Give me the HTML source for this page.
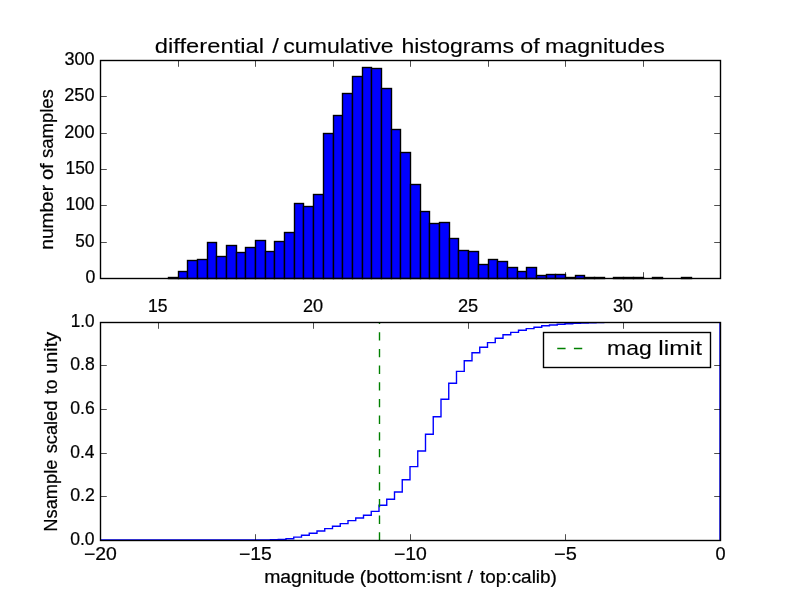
<!DOCTYPE html>
<html><head><meta charset="utf-8"><title>histograms</title>
<style>html,body{margin:0;padding:0;background:#fff;overflow:hidden}svg{display:block}text{font-family:"Liberation Sans",sans-serif;fill:#000;stroke:#000;stroke-width:0.22px;paint-order:stroke}</style>
</head><body>
<svg style="will-change:transform" width="800" height="600" viewBox="0 0 800 600">
<rect x="0" y="0" width="800" height="600" fill="#ffffff"/>
<g fill="#0000ff" stroke="#000000" stroke-width="1.39" stroke-linejoin="miter">
<rect x="168.50" y="277.50" width="10.00" height="1.00"/>
<rect x="178.50" y="271.50" width="9.00" height="7.00"/>
<rect x="187.50" y="260.50" width="10.00" height="18.00"/>
<rect x="197.50" y="259.50" width="10.00" height="19.00"/>
<rect x="207.50" y="242.50" width="9.00" height="36.00"/>
<rect x="216.50" y="256.50" width="10.00" height="22.00"/>
<rect x="226.50" y="245.50" width="10.00" height="33.00"/>
<rect x="236.50" y="252.50" width="9.00" height="26.00"/>
<rect x="245.50" y="247.50" width="10.00" height="31.00"/>
<rect x="255.50" y="240.50" width="10.00" height="38.00"/>
<rect x="265.50" y="251.50" width="9.00" height="27.00"/>
<rect x="274.50" y="241.50" width="10.00" height="37.00"/>
<rect x="284.50" y="232.50" width="10.00" height="46.00"/>
<rect x="294.50" y="203.50" width="9.00" height="75.00"/>
<rect x="303.50" y="206.50" width="10.00" height="72.00"/>
<rect x="313.50" y="194.50" width="10.00" height="84.00"/>
<rect x="323.50" y="133.50" width="10.00" height="145.00"/>
<rect x="333.50" y="115.50" width="9.00" height="163.00"/>
<rect x="342.50" y="93.50" width="10.00" height="185.00"/>
<rect x="352.50" y="76.50" width="10.00" height="202.00"/>
<rect x="362.50" y="67.50" width="9.00" height="211.00"/>
<rect x="371.50" y="68.50" width="10.00" height="210.00"/>
<rect x="381.50" y="88.50" width="10.00" height="190.00"/>
<rect x="391.50" y="129.50" width="9.00" height="149.00"/>
<rect x="400.50" y="152.50" width="10.00" height="126.00"/>
<rect x="410.50" y="184.50" width="10.00" height="94.00"/>
<rect x="420.50" y="211.50" width="9.00" height="67.00"/>
<rect x="429.50" y="223.50" width="10.00" height="55.00"/>
<rect x="439.50" y="222.50" width="10.00" height="56.00"/>
<rect x="449.50" y="238.50" width="9.00" height="40.00"/>
<rect x="458.50" y="250.50" width="10.00" height="28.00"/>
<rect x="468.50" y="251.50" width="10.00" height="27.00"/>
<rect x="478.50" y="264.50" width="10.00" height="14.00"/>
<rect x="488.50" y="259.50" width="9.00" height="19.00"/>
<rect x="497.50" y="261.50" width="10.00" height="17.00"/>
<rect x="507.50" y="267.50" width="10.00" height="11.00"/>
<rect x="517.50" y="271.50" width="9.00" height="7.00"/>
<rect x="526.50" y="267.50" width="10.00" height="11.00"/>
<rect x="536.50" y="275.50" width="10.00" height="3.00"/>
<rect x="546.50" y="274.50" width="9.00" height="4.00"/>
<rect x="555.50" y="274.50" width="10.00" height="4.00"/>
<rect x="565.50" y="277.50" width="10.00" height="1.00"/>
<rect x="575.50" y="275.50" width="9.00" height="3.00"/>
<rect x="584.50" y="277.50" width="10.00" height="1.00"/>
<rect x="594.50" y="277.50" width="10.00" height="1.00"/>
<rect x="613.50" y="277.50" width="10.00" height="1.00"/>
<rect x="623.50" y="277.50" width="10.00" height="1.00"/>
<rect x="633.50" y="277.50" width="10.00" height="1.00"/>
<rect x="652.50" y="277.50" width="10.00" height="1.00"/>
<rect x="681.50" y="277.50" width="10.00" height="1.00"/>
</g>
<g stroke="#000" stroke-width="0.69" fill="none">
<line x1="100.50" y1="278.50" x2="100.50" y2="272.20"/>
<line x1="178.50" y1="278.50" x2="178.50" y2="272.20"/>
<line x1="255.50" y1="278.50" x2="255.50" y2="272.20"/>
<line x1="333.50" y1="278.50" x2="333.50" y2="272.20"/>
<line x1="410.50" y1="278.50" x2="410.50" y2="272.20"/>
<line x1="488.50" y1="278.50" x2="488.50" y2="272.20"/>
<line x1="565.50" y1="278.50" x2="565.50" y2="272.20"/>
<line x1="643.50" y1="278.50" x2="643.50" y2="272.20"/>
<line x1="720.50" y1="278.50" x2="720.50" y2="272.20"/>
<line x1="100.50" y1="60.50" x2="100.50" y2="66.80"/>
<line x1="178.50" y1="60.50" x2="178.50" y2="66.80"/>
<line x1="255.50" y1="60.50" x2="255.50" y2="66.80"/>
<line x1="333.50" y1="60.50" x2="333.50" y2="66.80"/>
<line x1="410.50" y1="60.50" x2="410.50" y2="66.80"/>
<line x1="488.50" y1="60.50" x2="488.50" y2="66.80"/>
<line x1="565.50" y1="60.50" x2="565.50" y2="66.80"/>
<line x1="643.50" y1="60.50" x2="643.50" y2="66.80"/>
<line x1="720.50" y1="60.50" x2="720.50" y2="66.80"/>
<line x1="100.50" y1="278.50" x2="106.80" y2="278.50"/>
<line x1="100.50" y1="242.50" x2="106.80" y2="242.50"/>
<line x1="100.50" y1="205.50" x2="106.80" y2="205.50"/>
<line x1="100.50" y1="169.50" x2="106.80" y2="169.50"/>
<line x1="100.50" y1="133.50" x2="106.80" y2="133.50"/>
<line x1="100.50" y1="96.50" x2="106.80" y2="96.50"/>
<line x1="100.50" y1="60.50" x2="106.80" y2="60.50"/>
<line x1="720.50" y1="278.50" x2="714.20" y2="278.50"/>
<line x1="720.50" y1="242.50" x2="714.20" y2="242.50"/>
<line x1="720.50" y1="205.50" x2="714.20" y2="205.50"/>
<line x1="720.50" y1="169.50" x2="714.20" y2="169.50"/>
<line x1="720.50" y1="133.50" x2="714.20" y2="133.50"/>
<line x1="720.50" y1="96.50" x2="714.20" y2="96.50"/>
<line x1="720.50" y1="60.50" x2="714.20" y2="60.50"/>
</g>
<rect x="100.50" y="60.50" width="620.00" height="218.00" fill="none" stroke="#000" stroke-width="1.39"/>
<clipPath id="cl"><rect x="100.00" y="322.00" width="620.00" height="218.00"/></clipPath>
<g clip-path="url(#cl)">
<path d="M100.00 540.00 L100.00 540.00 L107.75 540.00 L107.75 540.00 L115.50 540.00 L115.50 540.00 L123.25 540.00 L123.25 540.00 L131.00 540.00 L131.00 540.00 L138.75 540.00 L138.75 540.00 L146.50 540.00 L146.50 540.00 L154.25 540.00 L154.25 540.00 L162.00 540.00 L162.00 540.00 L169.75 540.00 L169.75 540.00 L177.50 540.00 L177.50 540.00 L185.25 540.00 L185.25 540.00 L193.00 540.00 L193.00 540.00 L200.75 540.00 L200.75 540.00 L208.50 540.00 L208.50 540.00 L216.25 540.00 L216.25 540.00 L224.00 540.00 L224.00 540.00 L231.75 540.00 L231.75 540.00 L239.50 540.00 L239.50 540.00 L247.25 540.00 L247.25 540.00 L255.00 540.00 L255.00 540.00 L262.75 540.00 L262.75 539.90 L270.50 539.90 L270.50 539.75 L278.25 539.75 L278.25 539.55 L286.00 539.55 L286.00 538.70 L293.75 538.70 L293.75 537.10 L301.50 537.10 L301.50 535.20 L309.25 535.20 L309.25 533.20 L317.00 533.20 L317.00 531.00 L324.75 531.00 L324.75 528.60 L332.50 528.60 L332.50 526.20 L340.25 526.20 L340.25 523.60 L348.00 523.60 L348.00 520.60 L355.75 520.60 L355.75 518.00 L363.50 518.00 L363.50 515.20 L371.25 515.20 L371.25 511.40 L379.00 511.40 L379.00 505.20 L386.75 505.20 L386.75 499.30 L394.50 499.30 L394.50 492.00 L402.25 492.00 L402.25 479.70 L410.00 479.70 L410.00 466.60 L417.75 466.60 L417.75 451.00 L425.50 451.00 L425.50 434.20 L433.25 434.20 L433.25 416.80 L441.00 416.80 L441.00 399.30 L448.75 399.30 L448.75 383.30 L456.50 383.30 L456.50 371.40 L464.25 371.40 L464.25 360.80 L472.00 360.80 L472.00 352.80 L479.75 352.80 L479.75 347.20 L487.50 347.20 L487.50 342.60 L495.25 342.60 L495.25 338.20 L503.00 338.20 L503.00 334.80 L510.75 334.80 L510.75 332.40 L518.50 332.40 L518.50 330.20 L526.25 330.20 L526.25 328.60 L534.00 328.60 L534.00 327.20 L541.75 327.20 L541.75 325.80 L549.50 325.80 L549.50 325.00 L557.25 325.00 L557.25 324.20 L565.00 324.20 L565.00 323.70 L572.75 323.70 L572.75 323.30 L580.50 323.30 L580.50 323.00 L588.25 323.00 L588.25 322.70 L596.00 322.70 L596.00 322.50 L603.75 322.50 L603.75 322.30 L611.50 322.30 L611.50 322.20 L619.25 322.20 L619.25 322.10 L627.00 322.10 L627.00 322.00 L634.75 322.00 L634.75 321.95 L642.50 321.95 L642.50 321.82 L650.25 321.82 L650.25 321.82 L658.00 321.82 L658.00 321.82 L665.75 321.82 L665.75 321.82 L673.50 321.82 L673.50 321.82 L681.25 321.82 L681.25 321.82 L689.00 321.82 L689.00 321.82 L696.75 321.82 L696.75 321.82 L704.50 321.82 L704.50 321.82 L712.25 321.82 L712.25 321.82 L720.00 321.82 L720.00 540.00" fill="none" stroke="#0000ff" stroke-width="1.39" stroke-linejoin="miter"/>
<line x1="379.5" y1="540.6" x2="379.5" y2="321.82" stroke="#008000" stroke-width="1.39" stroke-dasharray="8.333 8.333"/>
</g>
<g stroke="#000" stroke-width="0.69" fill="none">
<line x1="100.50" y1="540.50" x2="100.50" y2="534.20"/>
<line x1="255.50" y1="540.50" x2="255.50" y2="534.20"/>
<line x1="410.50" y1="540.50" x2="410.50" y2="534.20"/>
<line x1="565.50" y1="540.50" x2="565.50" y2="534.20"/>
<line x1="720.50" y1="540.50" x2="720.50" y2="534.20"/>
<line x1="158.50" y1="322.50" x2="158.50" y2="328.80"/>
<line x1="313.50" y1="322.50" x2="313.50" y2="328.80"/>
<line x1="468.50" y1="322.50" x2="468.50" y2="328.80"/>
<line x1="623.50" y1="322.50" x2="623.50" y2="328.80"/>
<line x1="100.50" y1="540.50" x2="106.80" y2="540.50"/>
<line x1="100.50" y1="496.50" x2="106.80" y2="496.50"/>
<line x1="100.50" y1="453.50" x2="106.80" y2="453.50"/>
<line x1="100.50" y1="409.50" x2="106.80" y2="409.50"/>
<line x1="100.50" y1="365.50" x2="106.80" y2="365.50"/>
<line x1="100.50" y1="322.50" x2="106.80" y2="322.50"/>
<line x1="720.50" y1="540.50" x2="714.20" y2="540.50"/>
<line x1="720.50" y1="496.50" x2="714.20" y2="496.50"/>
<line x1="720.50" y1="453.50" x2="714.20" y2="453.50"/>
<line x1="720.50" y1="409.50" x2="714.20" y2="409.50"/>
<line x1="720.50" y1="365.50" x2="714.20" y2="365.50"/>
<line x1="720.50" y1="322.50" x2="714.20" y2="322.50"/>
</g>
<rect x="100.50" y="322.50" width="620.00" height="218.00" fill="none" stroke="#000" stroke-width="1.39"/>
<rect x="543.5" y="332.5" width="167" height="35" fill="#fff" stroke="#000" stroke-width="1.39"/>
<line x1="557.25" y1="348.5" x2="585.25" y2="348.5" stroke="#008000" stroke-width="1.39" stroke-dasharray="8.333 8.333"/>
<text transform="translate(155.75 53.00) scale(1.1268 1) translate(-0.844 0)" font-size="21.10" style="stroke-width:0.12px">differential</text>
<text transform="translate(272.30 53.00) scale(1.1341 1) translate(-0.000 0)" font-size="21.10" style="stroke-width:0.12px">/</text>
<text transform="translate(284.20 53.00) scale(1.0941 1) translate(-0.844 0)" font-size="21.10" style="stroke-width:0.12px">cumulative</text>
<text transform="translate(403.00 53.00) scale(1.0915 1) translate(-1.477 0)" font-size="21.10" style="stroke-width:0.12px">histograms</text>
<text transform="translate(521.25 53.00) scale(1.1058 1) translate(-0.844 0)" font-size="21.10" style="stroke-width:0.12px">of</text>
<text transform="translate(546.50 53.00) scale(1.0984 1) translate(-1.372 0)" font-size="21.10" style="stroke-width:0.12px">magnitudes</text>
<text transform="translate(265.40 583.30) scale(1.1028 1) translate(-1.144 0)" font-size="17.60">magnitude</text>
<text transform="translate(361.00 583.30) scale(1.1088 1) translate(-1.056 0)" font-size="17.60">(bottom:isnt</text>
<text transform="translate(467.60 583.30) scale(1.0958 1) translate(-0.000 0)" font-size="17.60">/</text>
<text transform="translate(480.30 583.30) scale(1.0778 1) translate(-0.264 0)" font-size="17.60">top:calib)</text>
<text transform="translate(86.30 282.90) scale(0.9949 1) translate(-0.712 0)" font-size="17.80">0</text>
<text transform="translate(76.00 246.90) scale(0.9662 1) translate(-0.712 0)" font-size="17.80">50</text>
<text transform="translate(66.80 209.90) scale(0.9755 1) translate(-1.335 0)" font-size="17.80">100</text>
<text transform="translate(66.80 173.90) scale(0.9755 1) translate(-1.335 0)" font-size="17.80">150</text>
<text transform="translate(65.10 137.90) scale(1.0205 1) translate(-0.890 0)" font-size="17.80">200</text>
<text transform="translate(65.10 100.90) scale(1.0205 1) translate(-0.890 0)" font-size="17.80">250</text>
<text transform="translate(65.10 64.90) scale(1.0141 1) translate(-0.712 0)" font-size="17.80">300</text>
<text transform="translate(70.90 544.90) scale(0.9869 1) translate(-0.712 0)" font-size="17.80">0.0</text>
<text transform="translate(70.90 500.90) scale(0.9983 1) translate(-0.712 0)" font-size="17.80">0.2</text>
<text transform="translate(70.90 457.90) scale(0.9794 1) translate(-0.712 0)" font-size="17.80">0.4</text>
<text transform="translate(70.90 413.90) scale(0.9907 1) translate(-0.712 0)" font-size="17.80">0.6</text>
<text transform="translate(70.90 369.90) scale(0.9907 1) translate(-0.712 0)" font-size="17.80">0.8</text>
<text transform="translate(72.00 326.90) scale(0.9656 1) translate(-1.335 0)" font-size="17.80">1.0</text>
<text transform="translate(149.35 311.90) scale(0.9881 1) translate(-1.335 0)" font-size="17.80">15</text>
<text transform="translate(303.80 311.90) scale(1.0195 1) translate(-0.890 0)" font-size="17.80">20</text>
<text transform="translate(458.80 311.90) scale(1.0245 1) translate(-0.890 0)" font-size="17.80">25</text>
<text transform="translate(613.80 311.90) scale(1.0096 1) translate(-0.712 0)" font-size="17.80">30</text>
<text transform="translate(84.90 560.00) scale(1.0887 1) translate(-0.890 0)" font-size="17.80">−20</text>
<text transform="translate(239.90 560.00) scale(1.0921 1) translate(-0.890 0)" font-size="17.80">−15</text>
<text transform="translate(394.90 560.00) scale(1.0887 1) translate(-0.890 0)" font-size="17.80">−10</text>
<text transform="translate(555.00 560.00) scale(1.1236 1) translate(-0.890 0)" font-size="17.80">−5</text>
<text transform="translate(716.15 560.00) scale(1.0183 1) translate(-0.712 0)" font-size="17.80">0</text>
<text transform="translate(52.90 248.50) rotate(-90) scale(1.0900 1) translate(-1.144 0)" font-size="17.60">number</text>
<text transform="translate(52.90 179.30) rotate(-90) scale(1.1471 1) translate(-0.704 0)" font-size="17.60">of</text>
<text transform="translate(52.90 157.50) rotate(-90) scale(1.0518 1) translate(-0.528 0)" font-size="17.60">samples</text>
<text transform="translate(57.30 530.20) rotate(-90) scale(1.0391 1) translate(-1.408 0)" font-size="17.60">Nsample</text>
<text transform="translate(57.30 452.75) rotate(-90) scale(1.0368 1) translate(-0.528 0)" font-size="17.60">scaled</text>
<text transform="translate(57.30 393.80) rotate(-90) scale(0.9870 1) translate(-0.264 0)" font-size="17.60">to</text>
<text transform="translate(57.30 372.50) rotate(-90) scale(1.1308 1) translate(-1.144 0)" font-size="17.60">unity</text>
<text transform="translate(608.50 355.00) scale(1.0889 1) translate(-1.372 0)" font-size="21.10" style="stroke-width:0.12px">mag</text>
<text transform="translate(659.80 355.00) scale(1.1600 1) translate(-1.372 0)" font-size="21.10" letter-spacing="0.101" style="stroke-width:0.12px">limit</text>
</svg>
</body></html>
